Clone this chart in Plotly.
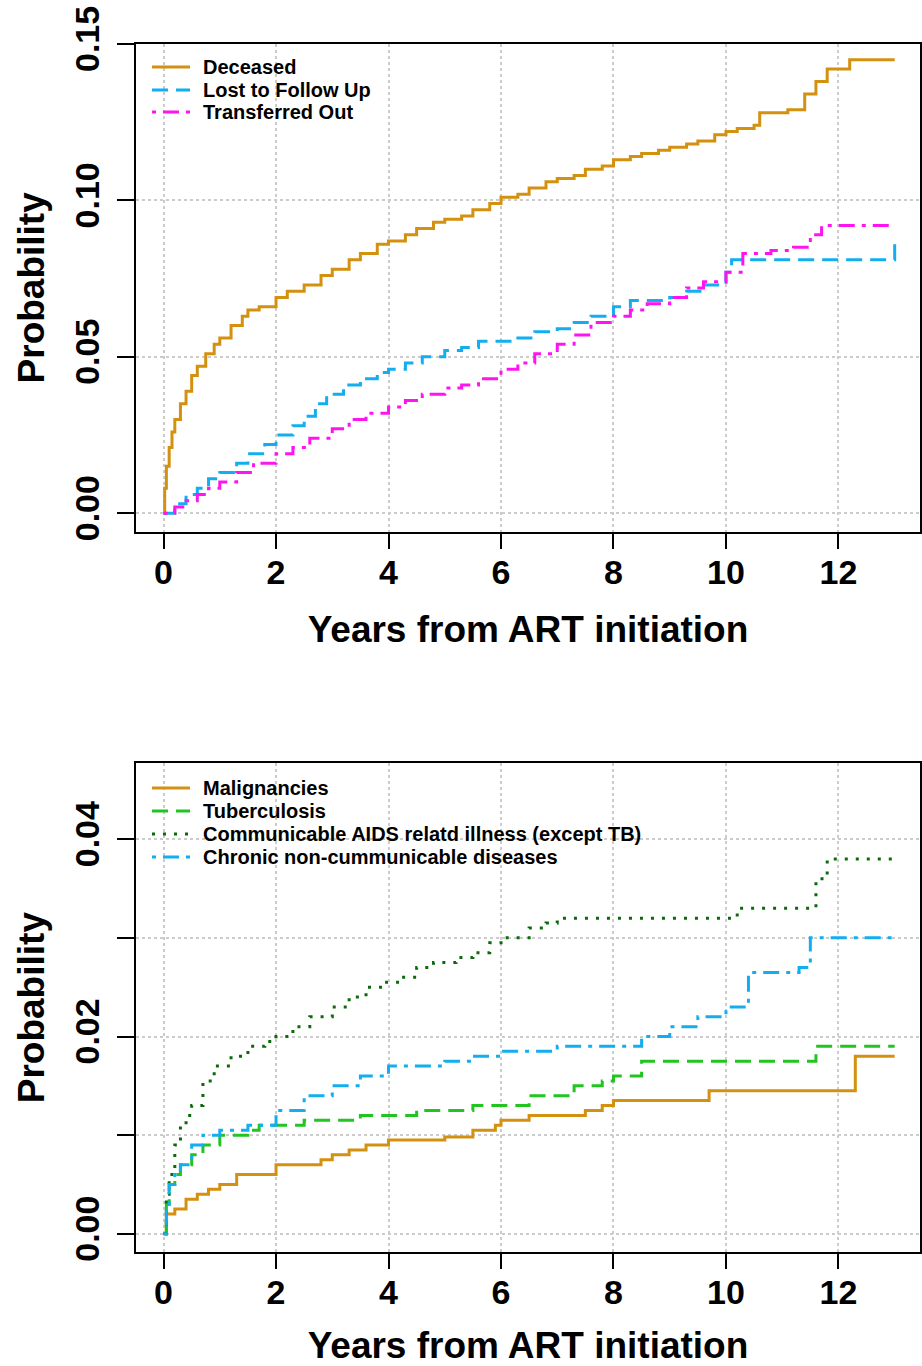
import plotly.graph_objects as go

# ---------------- Data ----------------
# Top panel: cumulative incidence of outcomes
dec_x = [0, 0.02, 0.05, 0.1, 0.15, 0.2, 0.3, 0.4, 0.5, 0.6, 0.75, 0.9, 1.0, 1.2, 1.4, 1.5, 1.7, 2.0, 2.2, 2.5,
         2.8, 3.0, 3.3, 3.5, 3.8, 4.0, 4.3, 4.5, 4.8, 5.0, 5.3, 5.5, 5.8, 6.0, 6.3, 6.5, 6.8, 7.0, 7.3, 7.5,
         7.8, 8.0, 8.3, 8.5, 8.8, 9.0, 9.3, 9.5, 9.8, 10.0, 10.2, 10.5, 10.6, 11.1, 11.4, 11.6, 11.8, 12.2, 13.0]
dec_y = [0, 0.008, 0.015, 0.021, 0.026, 0.030, 0.035, 0.039, 0.044, 0.047, 0.051, 0.054, 0.056, 0.060, 0.063, 0.065, 0.066, 0.069, 0.071, 0.073,
         0.076, 0.078, 0.081, 0.083, 0.086, 0.087, 0.089, 0.091, 0.093, 0.094, 0.095, 0.097, 0.099, 0.101, 0.102, 0.104, 0.106, 0.107, 0.108, 0.110,
         0.111, 0.113, 0.114, 0.115, 0.116, 0.117, 0.118, 0.119, 0.121, 0.122, 0.123, 0.124, 0.128, 0.129, 0.134, 0.138, 0.142, 0.145, 0.145]

ltfu_x = [0, 0.2, 0.4, 0.6, 0.8, 1.0, 1.3, 1.5, 1.8, 2.0, 2.3, 2.5, 2.7, 2.9, 3.2, 3.5, 3.8, 4.0, 4.3, 4.6, 5.0,
          5.3, 5.6, 6.0, 6.3, 6.6, 7.0, 7.3, 7.6, 8.0, 8.3, 8.6, 9.0, 9.3, 9.6, 10.0, 10.1, 13.0, 13.0]
ltfu_y = [0, 0.003, 0.006, 0.008, 0.011, 0.013, 0.016, 0.019, 0.022, 0.025, 0.028, 0.031, 0.035, 0.038, 0.041, 0.043, 0.045, 0.046, 0.048, 0.050, 0.052,
          0.053, 0.055, 0.055, 0.056, 0.058, 0.059, 0.061, 0.063, 0.066, 0.068, 0.068, 0.069, 0.071, 0.073, 0.077, 0.081, 0.081, 0.088]

tout_x = [0, 0.2, 0.4, 0.6, 0.8, 1.0, 1.3, 1.6, 2.0, 2.3, 2.6, 3.0, 3.3, 3.6, 4.0, 4.3, 4.6, 5.0, 5.3, 5.6, 6.0,
          6.3, 6.6, 7.0, 7.3, 7.6, 8.0, 8.3, 8.6, 9.0, 9.3, 9.6, 10.0, 10.3, 10.8, 11.2, 11.5, 11.7, 13.0]
tout_y = [0, 0.002, 0.004, 0.006, 0.008, 0.010, 0.013, 0.016, 0.019, 0.021, 0.024, 0.027, 0.030, 0.032, 0.034, 0.036, 0.038, 0.040, 0.041, 0.043, 0.046,
          0.048, 0.051, 0.054, 0.057, 0.061, 0.063, 0.065, 0.067, 0.069, 0.072, 0.074, 0.077, 0.083, 0.084, 0.085, 0.089, 0.092, 0.092]

# Bottom panel: cause-specific cumulative incidence
mal_x = [0, 0.05, 0.2, 0.4, 0.6, 0.8, 1.0, 1.3, 1.6, 2.0, 2.5, 2.8, 3.0, 3.3, 3.6, 4.0, 5.0, 5.5, 5.9, 6.0, 6.5, 7.0, 7.5, 7.8, 8.0,
         9.6, 9.7, 12.2, 12.3, 13.0]
mal_y = [0, 0.002, 0.0025, 0.0035, 0.004, 0.0045, 0.005, 0.006, 0.006, 0.007, 0.007, 0.0075, 0.008, 0.0085, 0.009, 0.0095, 0.0098, 0.0105, 0.011, 0.0115, 0.012, 0.012, 0.0125, 0.013, 0.0135,
         0.0135, 0.0145, 0.0145, 0.018, 0.018]

tb_x = [0, 0.05, 0.1, 0.2, 0.3, 0.5, 0.7, 1.0, 1.5, 1.7, 2.0, 2.5, 3.0, 3.5, 4.0, 4.5, 5.0, 5.5, 6.0, 6.5, 7.0, 7.3, 7.8, 8.0,
        8.5, 11.5, 11.6, 13.0]
tb_y = [0, 0.003, 0.005, 0.006, 0.007, 0.008, 0.009, 0.010, 0.0105, 0.011, 0.011, 0.0115, 0.0115, 0.012, 0.012, 0.0125, 0.0125, 0.013, 0.013, 0.014, 0.014, 0.015, 0.0155, 0.016,
        0.0175, 0.0175, 0.019, 0.019]

com_x = [0, 0.05, 0.1, 0.2, 0.3, 0.4, 0.5, 0.7, 0.9, 1.2, 1.5, 1.8, 2.0, 2.3, 2.6, 3.0, 3.3, 3.6, 3.9, 4.2, 4.5, 4.8, 5.2, 5.5, 5.8,
         6.0, 6.5, 6.8, 7.0, 10.0, 10.2, 11.5, 11.6, 11.8, 13.0]
com_y = [0, 0.004, 0.006, 0.009, 0.011, 0.012, 0.013, 0.0155, 0.017, 0.018, 0.019, 0.0195, 0.020, 0.021, 0.022, 0.023, 0.024, 0.025, 0.0255, 0.026, 0.027, 0.0275, 0.028, 0.0285, 0.0295,
         0.030, 0.031, 0.0315, 0.032, 0.032, 0.033, 0.033, 0.036, 0.038, 0.038]

chr_x = [0, 0.05, 0.1, 0.2, 0.3, 0.5, 0.7, 1.0, 1.5, 2.0, 2.5, 3.0, 3.5, 4.0, 4.5, 5.0, 5.5, 6.0, 6.5, 7.0, 7.5, 8.0,
         8.5, 9.0, 9.5, 10.0, 10.4, 11.3, 11.5, 13.0]
chr_y = [0, 0.003, 0.005, 0.006, 0.007, 0.009, 0.010, 0.0105, 0.011, 0.0125, 0.014, 0.015, 0.016, 0.017, 0.017, 0.0175, 0.018, 0.0185, 0.0185, 0.019, 0.019, 0.019,
         0.020, 0.021, 0.022, 0.023, 0.0265, 0.027, 0.030, 0.030]

x_ticks = [0, 2, 4, 6, 8, 10, 12]
top_y_ticks = [0.0, 0.05, 0.10, 0.15]
top_y_text = ["0.00", "0.05", "0.10", "0.15"]
bot_y_ticks = [0.0, 0.01, 0.02, 0.03, 0.04]
bot_y_text = ["0.00", "", "0.02", "", "0.04"]

# ---------------- Styles ----------------
GOLD = "#D4900F"
SKY = "#12AEEF"
MAGENTA = "#FF14F0"
GREEN = "#22C422"
DKGREEN = "#0A6A0A"
FONT = "Liberation Sans"
LW = 3
DASH = "16px,8px"
DOTDASH = "4px,7px,16px,7px"
DOT = "3px,8px"

W, H = 922, 1366
ML, MR, MT, MB = 136, 2, 44, 114
PW, PH = W - ML - MR, H - MT - MB


def px_x(p):
    return (p - ML) / PW


def px_y(p):
    return (H - MB - p) / PH


fig = go.Figure()

series = [
    (dec_x, dec_y, "Deceased", GOLD, "solid", "x", "y"),
    (ltfu_x, ltfu_y, "Lost to Follow Up", SKY, DASH, "x", "y"),
    (tout_x, tout_y, "Transferred Out", MAGENTA, DOTDASH, "x", "y"),
    (mal_x, mal_y, "Malignancies", GOLD, "solid", "x2", "y2"),
    (tb_x, tb_y, "Tuberculosis", GREEN, DASH, "x2", "y2"),
    (com_x, com_y, "Communicable AIDS relatd illness (except TB)", DKGREEN, DOT, "x2", "y2"),
    (chr_x, chr_y, "Chronic non-cummunicable diseases", SKY, DOTDASH, "x2", "y2"),
]

for x, y, name, color, dash, xa, ya in series:
    fig.add_trace(go.Scatter(
        x=x, y=y, name=name, mode="lines", line_shape="hv",
        line=dict(color=color, width=LW, dash=dash),
        xaxis=xa, yaxis=ya, showlegend=False))

# Manual legends (R-style, compact rows)
legend_rows_top = [67, 90, 112]
legend_rows_bot = [788, 811, 834, 857]
shapes, annotations = [], []
rows = legend_rows_top + legend_rows_bot
for (x, y, name, color, dash, xa, ya), ry in zip(series, rows):
    shapes.append(dict(type="line", xref="paper", yref="paper",
                       x0=px_x(152), x1=px_x(190), y0=px_y(ry), y1=px_y(ry),
                       line=dict(color=color, width=LW, dash=dash)))
    annotations.append(dict(xref="paper", yref="paper", x=px_x(201), y=px_y(ry),
                            xanchor="left", yanchor="middle", showarrow=False,
                            text=name,
                            font=dict(family=FONT, size=20, color="black", weight="bold")))

tickfont = dict(family=FONT, size=34, color="black", weight="bold")
titlefont = dict(family=FONT, size=37, color="black", weight="bold")


def xaxis(anchor):
    return dict(
        anchor=anchor, domain=[0, 1], range=[-0.49, 13.45], automargin=False,
        tickvals=x_ticks, ticks="outside", ticklen=15, tickwidth=2, tickcolor="black",
        tickfont=tickfont, ticklabelstandoff=-6,
        showline=True, linecolor="black", linewidth=2, mirror=True,
        showgrid=True, gridcolor="#CCCCCC", gridwidth=1.5, griddash="dot",
        zeroline=False,
        title=dict(text="Years from ART initiation", font=titlefont, standoff=27),
    )


def yaxis(anchor, domain, rng, vals, text):
    return dict(
        anchor=anchor, domain=domain, range=rng, automargin=False,
        tickvals=vals, ticktext=text, tickangle=-90,
        ticks="outside", ticklen=17, tickwidth=2, tickcolor="black",
        tickfont=tickfont, ticklabelstandoff=4,
        showline=True, linecolor="black", linewidth=2, mirror=True,
        showgrid=True, gridcolor="#CCCCCC", gridwidth=1.5, griddash="dot",
        zeroline=False,
        title=dict(text="Probability", font=titlefont, standoff=12),
    )


fig.update_layout(
    width=W, height=H,
    margin=dict(l=ML, r=MR, t=MT, b=MB),
    paper_bgcolor="white", plot_bgcolor="white",
    showlegend=False,
    xaxis=xaxis("y"),
    yaxis=yaxis("x", [px_y(531.7), 1.0], [-0.0059, 0.15], top_y_ticks, top_y_text),
    xaxis2=xaxis("y2"),
    yaxis2=yaxis("x2", [0.0, px_y(763.3)], [-0.00185, 0.0477], bot_y_ticks, bot_y_text),
    shapes=shapes,
    annotations=annotations,
)

fig.write_html(
    "out.html",
    config={"displayModeBar": False},
    post_script="document.body.style.margin='0';document.body.style.overflow='hidden';",
)
